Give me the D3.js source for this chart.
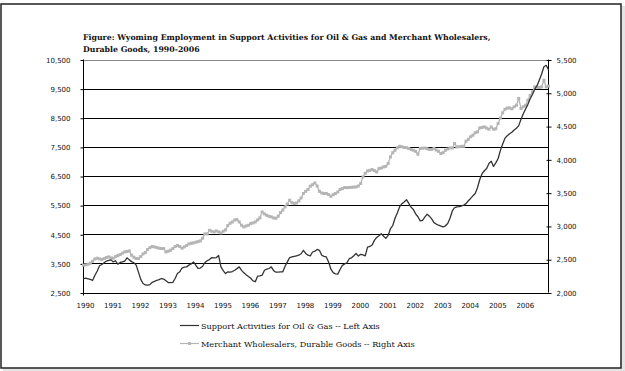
<!DOCTYPE html>
<html>
<head>
<meta charset="utf-8">
<script src="https://cdn.jsdelivr.net/npm/d3@7"></script>
<style>
  body { margin: 0; background: #fff; }
  svg { display: block; }
</style>
</head>
<body>
<svg id="chart" width="625" height="371"></svg>
<script>
const years = d3.range(1990, 2007);
const leftTicks = [2500, 3500, 4500, 5500, 6500, 7500, 8500, 9500, 10500];
const rightTicks = [2000, 2500, 3000, 3500, 4000, 4500, 5000, 5500];
const titleLines = [
  "Figure: Wyoming Employment in Support Activities for Oil & Gas and Merchant Wholesalers,",
  "Durable Goods, 1990-2006"
];
const legendLabels = [
  "Support Activities for Oil & Gas -- Left Axis",
  "Merchant Wholesalers, Durable Goods -- Right Axis"
];

// monthly, Jan 1990 - Dec 2006 (left axis)
const oilGas = [
  2980, 2990, 2970, 2950, 2920, 3090, 3240, 3420, 3460, 3520, 3580, 3600,
  3620, 3550, 3590, 3470, 3530, 3550, 3580, 3690, 3620, 3560, 3520, 3440,
  3200, 2950, 2810, 2760, 2750, 2770, 2850, 2880, 2920, 2940, 2980, 2960,
  2900, 2840, 2840, 2850, 2980, 3150, 3210, 3340, 3370, 3380, 3440, 3480,
  3550, 3440, 3330, 3340, 3400, 3530, 3590, 3630, 3700, 3690, 3700, 3770,
  3380, 3250, 3150, 3210, 3200, 3220, 3265, 3320, 3380, 3260, 3175, 3110,
  3050, 2990, 2900, 2870, 3060, 3070, 3094, 3265, 3300, 3324, 3380, 3250,
  3197, 3200, 3210, 3210, 3400, 3550, 3700, 3720, 3740, 3760, 3780, 3830,
  3950, 3840, 3780, 3760, 3890, 3920, 3980, 3950, 3780, 3740, 3720, 3550,
  3300, 3180, 3140, 3130, 3290, 3430, 3480, 3520, 3660, 3690, 3760, 3840,
  3750, 3810, 3790, 3760, 4060, 4080, 4130, 4290, 4390, 4450, 4520, 4430,
  4360, 4460, 4690, 4800, 5050, 5230, 5440, 5550, 5610, 5690, 5560, 5430,
  5350, 5200, 5100, 4960, 4980, 5090, 5190, 5120, 5030, 4900, 4850, 4810,
  4780, 4750, 4790, 4870, 5050, 5300, 5410, 5440, 5450, 5470, 5500, 5550,
  5650, 5730, 5820, 5900, 6100, 6380, 6580, 6680, 6760, 6930, 7010, 6830,
  6950, 7100, 7380, 7600, 7800, 7880, 7950, 8000, 8080, 8140, 8230, 8450,
  8640, 8800, 8960, 9150, 9300, 9480, 9600, 9800, 10000, 10250, 10300, 10150
];

// monthly, Jan 1990 - Dec 2006 (right axis)
const wholesale = [
  2410, 2415, 2425, 2440, 2470, 2505, 2515, 2505, 2495, 2510, 2525, 2535,
  2520, 2515, 2540, 2555, 2570, 2590, 2610, 2615, 2625, 2560, 2530, 2510,
  2510, 2540, 2580, 2600, 2645, 2675, 2690, 2685, 2675, 2665, 2660, 2660,
  2610, 2620, 2635, 2660, 2690, 2705, 2690, 2665, 2685, 2705, 2730, 2740,
  2745, 2755, 2765, 2775, 2815, 2880, 2880, 2935, 2920, 2910, 2925, 2910,
  2895, 2920, 2940, 3005, 3040, 3060, 3090, 3095, 3060, 3010, 2985, 3000,
  3010, 3035, 3045, 3060, 3090, 3120, 3210, 3180, 3160, 3145, 3135, 3120,
  3115, 3146, 3200, 3240, 3286, 3330, 3386, 3350, 3336, 3345, 3376, 3420,
  3487, 3520, 3547, 3597, 3620, 3646, 3600, 3520, 3495, 3487, 3487, 3470,
  3446, 3470, 3487, 3510, 3547, 3560, 3577, 3575, 3577, 3580, 3583, 3586,
  3600, 3637, 3737, 3790, 3826, 3835, 3847, 3830, 3811, 3862, 3870, 3887,
  3895, 3937, 4037, 4100, 4137, 4175, 4197, 4190, 4178, 4175, 4163, 4150,
  4137, 4120, 4077, 4163, 4168, 4170, 4160, 4148, 4150, 4165, 4140, 4120,
  4088, 4100, 4137, 4155, 4172, 4170, 4238, 4187, 4190, 4195, 4195, 4272,
  4300, 4340, 4363, 4400, 4412, 4472, 4480, 4487, 4470, 4453, 4487, 4453,
  4460, 4538, 4620, 4700, 4753, 4770, 4773, 4760, 4790, 4813, 4914, 4764,
  4790, 4813, 4889, 4960, 5013, 5088, 5085, 5080, 5088, 5189, 5088, 5100
];

const W = 625, H = 371;
const plot = { left: 83.5, right: 548.5, top: 59.5, bottom: 292.5 };
const tickFont = "'DejaVu Sans', Verdana, sans-serif";
const serifFont = "'DejaVu Serif', Georgia, serif";
const grayColor = "#b5b5b5";
const darkColor = "#333";

const svg = d3.select("#chart");

// shadow + frame
svg.append("rect").attr("x", 3).attr("y", 6).attr("width", W - 3).attr("height", H - 6).attr("fill", "#e4e4e4");
svg.append("rect").attr("x", 1).attr("y", 4).attr("width", 620).attr("height", 364)
  .attr("fill", "#fff").attr("stroke", "#222").attr("stroke-width", 1.5);

const x = d3.scaleLinear().domain([0, oilGas.length - 1]).range([plot.left, plot.right]);
const yL = d3.scaleLinear().domain([2500, 10500]).range([plot.bottom, plot.top]);
const yR = d3.scaleLinear().domain([2000, 5500]).range([plot.bottom, plot.top]);

// make text fit a given width
function fitText(sel, width) {
  sel.attr("font-size", 10);
  const len = sel.node().getComputedTextLength();
  const size = 10 * width / len;
  sel.attr("font-size", size);
  return size;
}

// title
const t1 = svg.append("text").attr("x", 83).attr("y", 40)
  .attr("font-family", serifFont).attr("font-weight", "bold").attr("fill", "#111")
  .text(titleLines[0]);
const titleSize = fitText(t1, 408);
svg.append("text").attr("x", 83).attr("y", 52)
  .attr("font-family", serifFont).attr("font-weight", "bold").attr("fill", "#111")
  .attr("font-size", titleSize).text(titleLines[1]);

// gridlines
svg.append("g").selectAll("line").data(leftTicks).join("line")
  .attr("x1", plot.left).attr("x2", plot.right)
  .attr("y1", d => Math.round(yL(d)) + 0.5).attr("y2", d => Math.round(yL(d)) + 0.5)
  .attr("stroke", d => d === 10500 ? "#888" : "#000").attr("stroke-width", 1);

// left axis
const leftAxis = svg.append("g").attr("transform", `translate(${plot.left},0.5)`)
  .call(d3.axisLeft(yL).tickValues(leftTicks).tickFormat(d3.format(",")).tickSize(3).tickPadding(10));
leftAxis.select(".domain").remove();
leftAxis.selectAll("text").attr("font-family", tickFont).attr("font-size", 7).attr("fill", "#111");
leftAxis.selectAll("line").attr("stroke", "#000");
svg.append("line").attr("x1", plot.left).attr("x2", plot.left)
  .attr("y1", plot.top).attr("y2", plot.bottom + 3).attr("stroke", "#000");

// right axis
const rightAxis = svg.append("g").attr("transform", `translate(${plot.right},0.5)`)
  .call(d3.axisRight(yR).tickValues(rightTicks).tickFormat(d3.format(",")).tickSize(3).tickPadding(5));
rightAxis.select(".domain").remove();
rightAxis.selectAll(".tick line").attr("x1", -2).attr("stroke", "#000");
rightAxis.selectAll("text").attr("font-family", tickFont).attr("font-size", 7).attr("fill", "#111");
svg.append("line").attr("x1", plot.right).attr("x2", plot.right)
  .attr("y1", plot.top).attr("y2", plot.bottom).attr("stroke", "#000");

// year labels
svg.append("g").selectAll("text").data(years).join("text")
  .attr("x", (d, i) => x(i * 12) + 2).attr("y", 308)
  .attr("text-anchor", "middle").attr("font-family", tickFont).attr("font-size", 7).attr("fill", "#111")
  .text(d => d);

// wholesale series (right axis)
svg.append("path").datum(wholesale)
  .attr("fill", "none").attr("stroke", grayColor).attr("stroke-width", 1.3)
  .attr("d", d3.line().x((d, i) => x(i)).y(d => yR(d)));
svg.append("g").selectAll("rect").data(wholesale).join("rect")
  .attr("x", (d, i) => x(i) - 1.5).attr("y", d => yR(d) - 1.5)
  .attr("width", 3).attr("height", 3).attr("fill", grayColor);

// oil & gas series (left axis)
svg.append("path").datum(oilGas)
  .attr("fill", "none").attr("stroke", darkColor).attr("stroke-width", 1.3)
  .attr("stroke-linejoin", "round")
  .attr("d", d3.line().x((d, i) => x(i)).y(d => yL(d)));

// legend
const legend = svg.append("g");
legend.append("line").attr("x1", 180).attr("x2", 199).attr("y1", 325.5).attr("y2", 325.5)
  .attr("stroke", darkColor).attr("stroke-width", 1.2);
legend.append("line").attr("x1", 180).attr("x2", 199).attr("y1", 343.5).attr("y2", 343.5)
  .attr("stroke", grayColor).attr("stroke-width", 1.2);
legend.append("rect").attr("x", 188).attr("y", 342).attr("width", 3).attr("height", 3).attr("fill", grayColor);
const l2 = legend.append("text").attr("x", 201).attr("y", 346.5)
  .attr("font-family", serifFont).attr("fill", "#111").text(legendLabels[1]);
const legSize = fitText(l2, 214);
legend.append("text").attr("x", 201).attr("y", 328.5)
  .attr("font-family", serifFont).attr("fill", "#111").attr("font-size", legSize).text(legendLabels[0]);
</script>
</body>
</html>
